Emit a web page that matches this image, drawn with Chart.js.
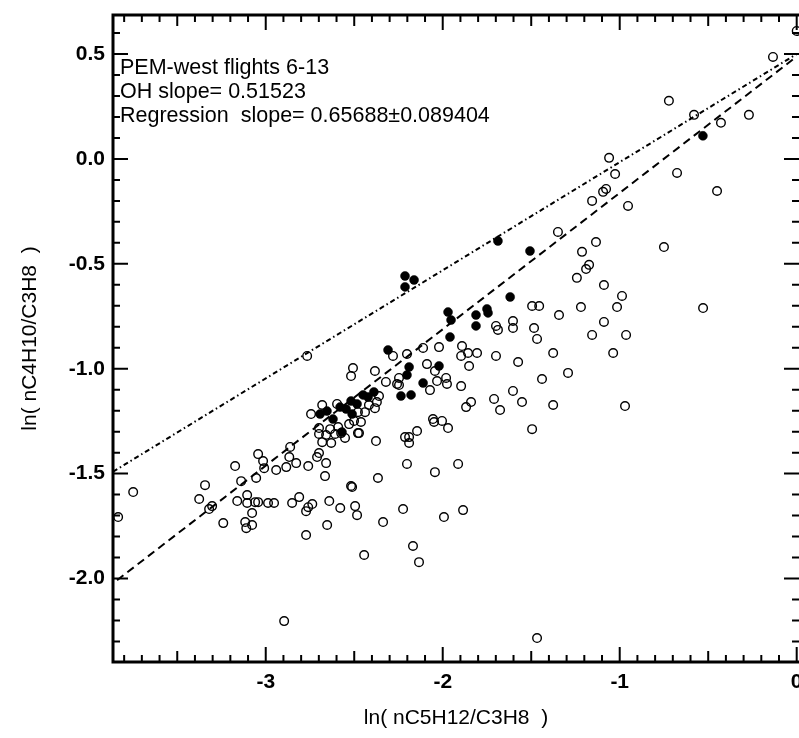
<!DOCTYPE html>
<html>
<head>
<meta charset="utf-8">
<script src="https://cdn.jsdelivr.net/npm/chart.js@4/dist/chart.umd.min.js"></script>
<style>
html,body{margin:0;padding:0;background:#fff;}
#wrap{width:799px;height:738px;position:relative;}
</style>
</head>
<body>
<div id="wrap"><canvas id="c" width="799" height="738"></canvas></div>
<script>
// ---- data ----
const openX = [0.00,-0.134,-0.722,-0.580,-0.428,-0.270,-1.060,-1.026,-0.676,-0.450,-1.094,-1.077,-1.156,-0.953,-1.349,-1.134,-0.750,-1.213,-1.173,-1.190,-1.242,-1.089,-0.987,-1.495,-1.455,-1.219,-1.015,-0.529,-1.343,-1.089,-1.156,-0.964,-1.603,-1.603,-1.699,-1.688,-1.484,-1.467,-1.376,-1.037,-1.699,-1.574,-1.439,-1.292,-1.603,-1.552,-1.710,-1.676,-1.376,-0.970,-1.495,-1.891,-1.857,-1.806,-1.896,-1.851,-2.021,-2.111,-2.202,-2.281,-2.383,-2.507,-2.518,-2.321,-2.247,-2.247,-2.089,-2.044,-2.032,-1.981,-1.976,-2.072,-1.896,-1.868,-1.840,-2.055,-2.049,-2.004,-1.970,-2.145,-2.213,-2.190,-2.190,-2.377,-2.552,-2.479,-2.462,-2.202,-2.044,-1.913,-2.366,-2.512,-1.467,-2.224,-1.993,-1.885,-2.168,-2.134,-3.834,-3.749,-3.376,-3.320,-3.303,-3.240,-3.161,-3.105,-3.060,-3.043,-3.116,-3.110,-3.077,-3.077,-2.987,-2.953,-2.851,-2.896,-2.772,-2.760,-2.737,-2.772,-2.653,-2.641,-2.579,-2.495,-2.484,-2.444,-2.337,-3.173,-3.343,-3.139,-3.105,-3.054,-3.043,-3.015,-3.009,-2.941,-2.884,-2.862,-2.867,-2.828,-2.760,-2.811,-2.699,-2.710,-2.659,-2.665,-2.518,-2.744,-2.681,-2.597,-2.699,-2.699,-2.681,-2.636,-2.630,-2.659,-2.591,-2.608,-2.574,-2.529,-2.501,-2.473,-2.479,-2.439,-2.383,-2.417,-2.372,-2.360,-2.766,-2.258];
const openY = [0.61,0.486,0.277,0.210,0.172,0.210,0.005,-0.072,-0.067,-0.153,-0.157,-0.143,-0.200,-0.224,-0.348,-0.396,-0.420,-0.443,-0.505,-0.525,-0.567,-0.601,-0.653,-0.701,-0.701,-0.706,-0.706,-0.711,-0.744,-0.777,-0.839,-0.839,-0.773,-0.806,-0.796,-0.815,-0.806,-0.858,-0.925,-0.925,-0.939,-0.968,-1.049,-1.020,-1.106,-1.159,-1.144,-1.197,-1.173,-1.178,-1.288,-0.892,-0.925,-0.925,-0.939,-0.987,-0.897,-0.901,-0.930,-0.939,-1.011,-0.997,-1.035,-1.063,-1.044,-1.078,-0.978,-1.011,-1.059,-1.044,-1.073,-1.102,-1.083,-1.183,-1.159,-1.240,-1.254,-1.249,-1.283,-1.297,-1.326,-1.326,-1.354,-1.345,-1.330,-1.307,-1.254,-1.454,-1.493,-1.454,-1.521,-1.564,-2.284,-1.669,-1.707,-1.674,-1.845,-1.922,-1.707,-1.588,-1.621,-1.669,-1.655,-1.736,-1.631,-1.640,-1.636,-1.636,-1.731,-1.760,-1.745,-1.688,-1.640,-1.640,-1.640,-2.203,-1.679,-1.660,-1.645,-1.793,-1.745,-1.631,-1.664,-1.655,-1.698,-1.888,-1.731,-1.464,-1.555,-1.536,-1.602,-1.521,-1.407,-1.440,-1.474,-1.483,-1.469,-1.373,-1.421,-1.450,-1.464,-1.612,-1.402,-1.421,-1.450,-1.512,-1.559,-1.216,-1.173,-1.168,-1.283,-1.311,-1.350,-1.288,-1.354,-1.316,-1.278,-1.311,-1.307,-1.264,-1.249,-1.307,-1.207,-1.207,-1.188,-1.173,-1.159,-1.130,-0.939,-1.073];
const filledX = [-2.693,-2.654,-2.620,-2.580,-2.546,-2.518,-2.512,-2.484,-2.450,-2.422,-2.389,-2.569,-2.236,-2.179,-2.202,-2.190,-2.309,-2.111,-2.021,-1.959,-1.970,-1.953,-1.812,-1.812,-1.750,-1.744,-1.619,-1.688,-1.507,-2.213,-2.162,-2.213,-0.530];
const filledY = [-1.216,-1.202,-1.240,-1.183,-1.192,-1.154,-1.216,-1.168,-1.125,-1.135,-1.111,-1.302,-1.130,-1.125,-1.030,-0.992,-0.911,-1.068,-0.987,-0.849,-0.730,-0.768,-0.744,-0.796,-0.715,-0.734,-0.658,-0.391,-0.439,-0.558,-0.577,-0.610,0.110];
const ohLineX = [-3.863, 0.0];
const ohLineY = [-1.491, 0.50];
const regLineX = [-3.84, 0.0];
const regLineY = [-2.008, 0.488];
const xTicks = [-3, -2, -1, 0];
const yTicks = [-2.0, -1.5, -1.0, -0.5, 0.0, 0.5];
const xRange = [-3.863, 0.013];
const yRange = [-2.398, 0.686];
const notes = ["PEM-west flights 6-13", "OH slope= 0.51523", "Regression  slope= 0.65688\u00b10.089404"];
const xTitle = "ln( nC5H12/C3H8  )";
const yTitle = "ln( nC4H10/C3H8  )";

const toPts = (xs, ys) => xs.map((x, i) => ({x: x, y: ys[i]}));

const FONT = '"Liberation Sans", Arial, Helvetica, sans-serif';

const framePlugin = {
  id: 'frame',
  afterDraw(chart) {
    const {ctx, chartArea: a, scales} = chart;
    const xs = scales.x, ys = scales.y;
    ctx.save();
    ctx.strokeStyle = '#000';
    ctx.lineCap = 'butt';
    ctx.lineWidth = 2;
    for (let i = Math.ceil(xs.min * 10); i <= Math.floor(xs.max * 10); i++) {
      const px = xs.getPixelForValue(i / 10);
      const len = (i % 10 === 0) ? 15 : (i % 5 === 0 ? 11 : 7);
      ctx.beginPath();
      ctx.moveTo(px, a.bottom); ctx.lineTo(px, a.bottom - len);
      ctx.moveTo(px, a.top); ctx.lineTo(px, a.top + len);
      ctx.stroke();
    }
    for (let i = Math.ceil(ys.min * 10); i <= Math.floor(ys.max * 10); i++) {
      const py = ys.getPixelForValue(i / 10);
      const len = (i % 5 === 0) ? 15 : 7;
      ctx.beginPath();
      ctx.moveTo(a.left, py); ctx.lineTo(a.left + len, py);
      ctx.moveTo(a.right, py); ctx.lineTo(a.right - len, py);
      ctx.stroke();
    }
    // frame: left, bottom, top (right edge falls at the picture border)
    ctx.lineWidth = 3;
    ctx.beginPath();
    ctx.moveTo(a.right, a.top); ctx.lineTo(a.left, a.top);
    ctx.lineTo(a.left, a.bottom); ctx.lineTo(a.right, a.bottom);
    ctx.stroke();
    ctx.fillStyle = '#000';
    ctx.font = '21.5px ' + FONT;
    ctx.textAlign = 'left';
    ctx.textBaseline = 'alphabetic';
    notes.forEach((t, i) => ctx.fillText(t, a.left + 7, 74 + i * 24));
    ctx.restore();
  }
};

new Chart(document.getElementById('c'), {
  type: 'scatter',
  data: {
    datasets: [
      {
        data: toPts(openX, openY),
        pointStyle: 'circle',
        pointRadius: 4.3,
        pointBorderWidth: 1.4,
        pointBorderColor: '#000',
        pointBackgroundColor: 'rgba(0,0,0,0)',
        showLine: false
      },
      {
        data: toPts(filledX, filledY),
        pointStyle: 'circle',
        pointRadius: 4.5,
        pointBorderWidth: 0.5,
        pointBorderColor: '#000',
        pointBackgroundColor: '#000',
        showLine: false
      },
      {
        data: toPts(ohLineX, ohLineY),
        showLine: true,
        pointRadius: 0,
        borderColor: '#000',
        borderWidth: 2,
        borderDash: [5, 3, 1.5, 3],
        fill: false
      },
      {
        data: toPts(regLineX, regLineY),
        showLine: true,
        pointRadius: 0,
        borderColor: '#000',
        borderWidth: 2,
        borderDash: [8, 5],
        fill: false
      }
    ]
  },
  options: {
    responsive: false,
    animation: false,
    devicePixelRatio: 1,
    layout: {autoPadding: false, padding: {top: 15, right: 0, left: 0, bottom: 0}},
    plugins: {legend: {display: false}, tooltip: {enabled: false}},
    scales: {
      x: {
        type: 'linear',
        min: xRange[0], max: xRange[1],
        afterBuildTicks: s => { s.ticks = xTicks.map(v => ({value: v})); },
        afterFit: s => { s.height = 76; s.paddingLeft = 0; s.paddingRight = 0; },
        grid: {display: false, drawTicks: false},
        border: {display: false},
        ticks: {
          color: '#000',
          font: {family: FONT, size: 21, weight: 'bold'},
          padding: 8,
          maxRotation: 0,
          callback: v => String(v)
        },
        title: {
          display: true, text: xTitle, color: '#000',
          font: {family: FONT, size: 21},
          padding: {top: 0, bottom: 7}
        }
      },
      y: {
        type: 'linear',
        min: yRange[0], max: yRange[1],
        afterBuildTicks: s => { s.ticks = yTicks.map(v => ({value: v})); },
        afterFit: s => { s.width = 113; s.paddingTop = 0; s.paddingBottom = 0; },
        grid: {display: false, drawTicks: false},
        border: {display: false},
        ticks: {
          color: '#000',
          font: {family: FONT, size: 21, weight: 'bold'},
          padding: 8,
          callback: v => Number(v).toFixed(1)
        },
        title: {
          display: true, text: yTitle, color: '#000',
          font: {family: FONT, size: 21},
          padding: {top: 18, bottom: 0}
        }
      }
    }
  },
  plugins: [framePlugin]
});
</script>
</body>
</html>
